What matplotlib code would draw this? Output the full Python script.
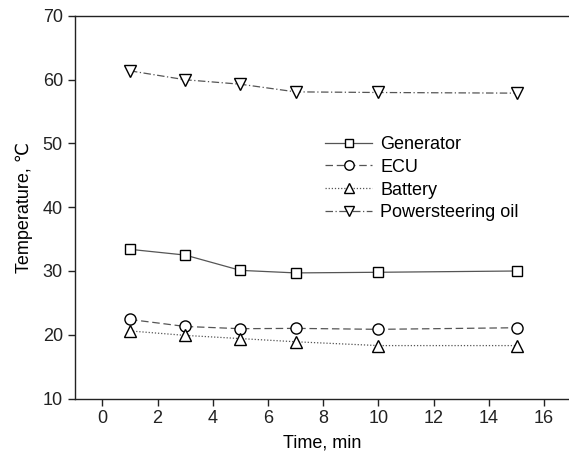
import matplotlib
matplotlib.use("Agg")
import matplotlib.pyplot as plt

plt.rcParams['font.family'] = ['Liberation Sans', 'DejaVu Sans']

time_min = [1, 3, 5, 7, 10, 15]
generator = [33.4, 32.5, 30.1, 29.7, 29.8, 30.0]
ecu = [22.4, 21.3, 20.95, 21.0, 20.85, 21.1]
battery = [20.6, 19.9, 19.4, 18.9, 18.3, 18.3]
powersteering = [61.4, 60.0, 59.3, 58.1, 58.0, 57.9]

fig = plt.figure(figsize=(5.69, 4.59), dpi=100)
ax = fig.add_axes([74.7/569, 1 - 398.5/459, 1 - 74.7/569, (398.5 - 16)/459])

lc = '#555555'
mk = dict(markerfacecolor='white', markeredgecolor='black', markeredgewidth=1.0)
ax.plot(time_min, generator, linestyle='-', color=lc, lw=0.9, marker='s', markersize=7.5, label='Generator', **mk)
ax.plot(time_min, ecu, linestyle=(0, (6, 3)), color=lc, lw=0.9, marker='o', markersize=8, label='ECU', **mk)
ax.plot(time_min, battery, linestyle=(0, (1, 1.5)), color=lc, lw=0.9, marker='^', markersize=9, label='Battery', **mk)
ax.plot(time_min, powersteering, linestyle=(0, (6, 2, 1, 2)), color=lc, lw=0.9, marker='v', markersize=9, label='Powersteering oil', **mk)

ax.set_xlim(-1, 16.9)
ax.set_ylim(10, 70)
ax.set_xticks(range(0, 17, 2))
ax.set_yticks(range(10, 71, 10))
ax.spines['right'].set_visible(False)
for s in ['left', 'bottom', 'top']:
    ax.spines[s].set_linewidth(1.0)
    ax.spines[s].set_color('#222222')
ax.tick_params(direction='out', length=5, width=1.0, labelsize=13, colors='#222222')
ax.set_xlabel('Time, min', fontsize=13, labelpad=5)
ax.set_ylabel('Temperature, ℃', fontsize=13, labelpad=7)

leg = ax.legend(loc='upper left', bbox_to_anchor=(316/569, 1 - 127/459),
                bbox_transform=fig.transFigure, frameon=False, fontsize=13,
                handlelength=2.6, handletextpad=0.45, labelspacing=0.32, borderpad=0,
                markerscale=0.85)

fig.savefig('out.png', dpi=100)
